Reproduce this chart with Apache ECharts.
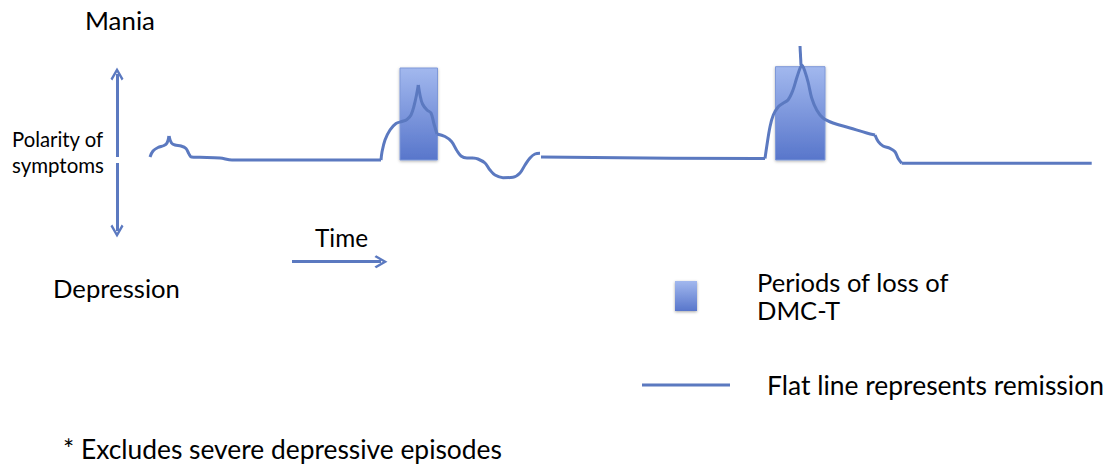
<!DOCTYPE html>
<html><head><meta charset="utf-8">
<script src="https://cdn.jsdelivr.net/npm/echarts@6/dist/echarts.min.js"></script>
<style>html,body{margin:0;padding:0;background:#fff;}#c{width:1109px;height:466px;}</style>
</head><body><div id="c"></div>
<script>
// Time (x) and polarity of symptoms (y): remission baseline = 0, mania > 0, depression < 0
const minorBumpRise = [[0,0.3],[0.3,0.9],[0.8,1.25],[1.4,1.45],[1.7,1.7],[1.9,2.4]];
const minorBumpFall = [[1.9,2.4],[2.15,1.7],[2.5,1.5],[3.1,1.4],[3.6,1.15],[3.9,0.6],[4.15,0.3],[5.0,0.27],[7.0,0.2],[8.2,0],[23.1,0]];
const mania1Rise = [[23.1,0],[23.2,0.8],[23.5,2.0],[24.0,3.0],[24.6,3.65],[25.2,3.85],[25.7,4.05],[26.1,4.5],[26.4,5.4],[26.65,6.5],[26.83,7.5]];
const mania1Fall = [[26.83,7.5],[27.0,6.5],[27.25,5.6],[27.7,5.0],[28.1,4.7],[28.4,3.6],[28.7,2.6]];
const recovery1 = [[28.7,2.6],[29.5,2.35],[30.15,1.85],[30.65,1.0],[31.1,0.4],[31.7,0.2],[32.3,0.2]];
const depressiveDip = [[32.3,0.2],[32.8,0.1],[33.5,-0.3],[34.0,-1.0],[34.5,-1.5],[35.3,-1.77],[36.3,-1.73],[37.0,-1.3],[37.5,-0.5],[38.0,0.2],[38.5,0.6],[39.0,0.67]];
const remission2 = [[39.1,0.3],[60.7,0.15],[61.5,0.15]];
const mania2 = [[61.5,0.15],[61.67,1.33],[62.0,3.33],[62.33,4.5],[62.83,5.33],[63.3,5.67],[63.8,6.0],[64.3,7.0],[64.67,8.2],[65.0,9.17],[65.17,9.5],[65.5,8.83],[65.83,7.7],[66.17,6.2],[66.67,5.0],[67.3,4.2],[68.3,3.7],[70.0,3.2],[71.67,2.7],[72.5,2.5]];
const recovery2 = [[72.5,2.5],[72.83,1.83],[73.3,1.4],[74.0,1.17],[74.5,0.83],[74.8,0.17],[75.17,-0.33]];
const remission3 = [[75.17,-0.33],[94.17,-0.33]];
const maniaSpike = [[65.0,11.4],[65.1,9.5]];
// Periods of loss of DMC-T: [start, end, top polarity]
const lossPeriods = [[25.0,28.75,9.2],[62.55,67.5,9.33]];
// Axis arrows: polarity (up / down) and time
const polarityUp = [[-3.3,0.3],[-3.3,8.6]];
const polarityDown = [[-3.3,-0.3],[-3.3,-7.1]];
const timeArrow = [[14.2,-10.17],[23.1,-10.17]];

const lossName = 'Periods of loss of DMC-T';
const lineName = 'Flat line represents remission';
const labelMania = 'Mania', labelDep = 'Depression', labelPol1 = 'Polarity of', labelPol2 = 'symptoms', labelTime = 'Time';
const footnote = '* Excludes severe depressive episodes';

const FONT = 'Lato';
const mctx = document.createElement('canvas').getContext('2d');
function fitSize(text, w){ mctx.font = '100px ' + FONT; return 100 * w / mctx.measureText(text).width; }

const LINE = '#5b79c0';
const grad = () => new echarts.graphic.LinearGradient(0,0,0,1,[{offset:0,color:'#a2b8ee'},{offset:1,color:'#5876cb'}]);
const chevron = 'path://M0,8 L5,0 L10,8 L8.6,9.2 L5,3.3 L1.4,9.2 Z';

const segments = [minorBumpRise, minorBumpFall, mania1Rise, mania1Fall, recovery1, depressiveDip, remission2, mania2, recovery2, remission3, maniaSpike];

const chart = echarts.init(document.getElementById('c'), null, {renderer:'svg'});
const textEl = (t, x, y, w) => ({type:'text', x:x, y:y, style:{text:t, fontFamily:FONT, fontSize:fitSize(t,w), fill:'#000', align:'left', verticalAlign:'middle'}});
const legSize = fitSize('Periods of loss of', 192);
const legSize2 = fitSize(lineName, 337);

const series = [{
  type:'custom', name:lossName, z:1, data:lossPeriods,
  itemStyle:{color:grad(), shadowBlur:3, shadowColor:'rgba(0,0,0,0.35)', shadowOffsetY:1},
  encode:{x:[0,1], y:2},
  renderItem:(params, api) => {
    const p0 = api.coord([api.value(0), api.value(2)]);
    const p1 = api.coord([api.value(1), 0]);
    return {type:'rect', shape:{x:p0[0], y:p0[1], width:p1[0]-p0[0], height:p1[1]-p0[1]},
      style:{fill:grad(), stroke:'#7e98d8', lineWidth:1, shadowBlur:3, shadowColor:'rgba(0,0,0,0.3)', shadowOffsetY:1}};
  }
}];
segments.forEach(seg => series.push({
  type:'line', name:lineName, data:seg, smooth:0.35, symbol:'none', showSymbol:false, z:3,
  itemStyle:{color:LINE}, lineStyle:{color:LINE, width:3}
}));
series.push({
  type:'lines', coordinateSystem:'cartesian2d', z:3,
  symbol:['none', chevron], symbolSize:13,
  lineStyle:{color:LINE, width:3, opacity:1, curveness:0},
  data:[{coords:polarityUp},{coords:polarityDown},{coords:timeArrow}]
});

chart.setOption({
  animation:false,
  grid:{left:0, right:0, top:0, bottom:0},
  xAxis:{type:'value', min:-15, max:95.9, show:false},
  yAxis:{type:'value', min:-30.6, max:16, show:false},
  legend:[
    {data:[lossName], left:675, top:268, padding:0, itemWidth:22, itemHeight:30, icon:'rect', selectedMode:false,
     itemStyle:{shadowBlur:3, shadowColor:'rgba(0,0,0,0.35)', shadowOffsetY:1},
     formatter:() => 'Periods of loss of\nDMC-T',
     textStyle:{fontFamily:FONT, fontSize:legSize, lineHeight:28, color:'#000', padding:[0,0,0,55]}},
    {data:[lineName], left:642, top:371, padding:0, itemWidth:88, itemHeight:3, icon:'rect', selectedMode:false,
     textStyle:{fontFamily:FONT, fontSize:legSize2, lineHeight:28, color:'#000', padding:[0,0,0,32]}}
  ],
  graphic:[
    textEl(labelMania, 85, 20, 70),
    textEl(labelPol1, 12, 139, 91.6),
    textEl(labelPol2, 12, 165, 92),
    textEl(labelTime, 315, 237, 53),
    textEl(labelDep, 53, 288, 127),
    textEl(footnote, 63, 449, 439)
  ],
  series:series
});
</script></body></html>
